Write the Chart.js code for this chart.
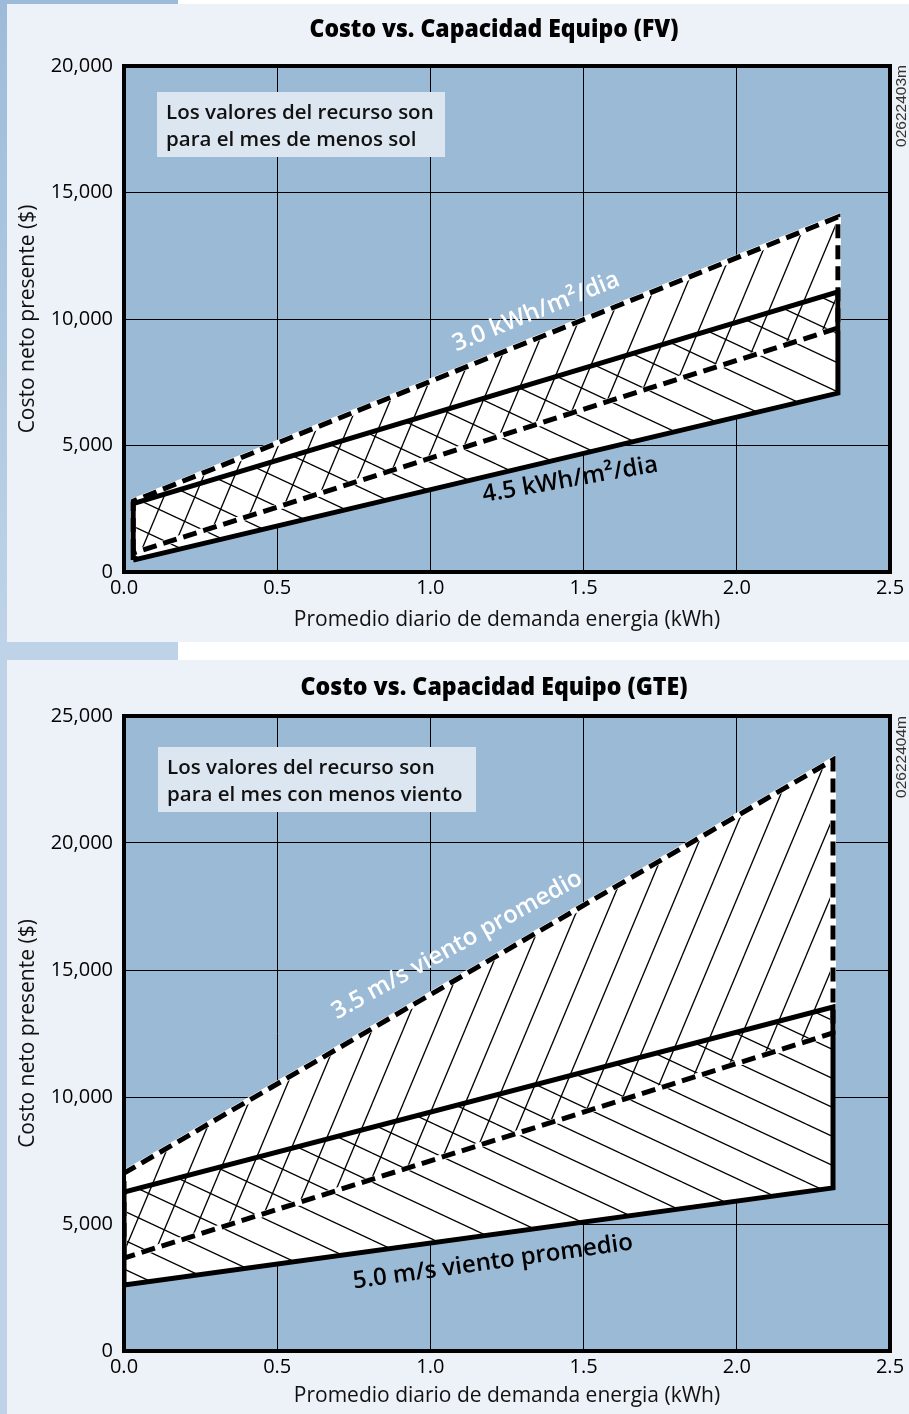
<!DOCTYPE html>
<html>
<head>
<meta charset="utf-8">
<script src="https://cdn.jsdelivr.net/npm/chart.js@4.4.1/dist/chart.umd.min.js"></script>
<style>
body { margin: 0; width: 909px; height: 1414px; position: relative; background: #fff; overflow: hidden; }
.bg { position: absolute; }
canvas { position: absolute; left: 0; }
</style>
</head>
<body>
<div class="bg" style="left:0;top:0;width:178px;height:4px;background:#9dbbd8"></div>
<div class="bg" style="left:0;top:0;width:7px;height:642px;background:linear-gradient(#9dbbd8,#bed3e8)"></div>
<div class="bg" style="left:7px;top:4px;width:902px;height:638px;background:#edf1f8"></div>
<div class="bg" style="left:0;top:642px;width:178px;height:18px;background:#bed3e8"></div>
<div class="bg" style="left:0;top:660px;width:7px;height:754px;background:#bed3e8"></div>
<div class="bg" style="left:7px;top:660px;width:902px;height:754px;background:#edf1f8"></div>
<canvas id="fv" width="909" height="642" style="top:0"></canvas>
<canvas id="gte" width="909" height="754" style="top:660px"></canvas>
<script>
// shared x axis
const xTicks = [0, 0.5, 1.0, 1.5, 2.0, 2.5];

// FV chart (x ends, then y at left / right end)
const fvX = [0.03, 2.33];
const fvSolidLow = [470, 7070];
const fvSolidHigh = [2700, 11070];
const fvDashLow = [750, 9640];
const fvDashHigh = [2800, 14030];
const fvYTicks = [0, 5000, 10000, 15000, 20000];

// GTE chart
const gteX = [0, 2.314];
const gteSolidLow = [2600, 6420];
const gteSolidHigh = [6260, 13540];
const gteDashLow = [3660, 12520];
const gteDashHigh = [7000, 23270];
const gteYTicks = [0, 5000, 10000, 15000, 20000, 25000];

const FONT = '"Open Sans", "Noto Sans", sans-serif';

function hatch(w, h, rising) {
    const c = document.createElement('canvas');
    c.width = w; c.height = h;
    const g = c.getContext('2d');
    g.strokeStyle = '#000';
    g.lineWidth = 1.3;
    for (let i = -1; i <= 1; i++) {
        for (let j = -1; j <= 1; j++) {
            g.beginPath();
            if (rising) { g.moveTo(i * w, j * h + h); g.lineTo(i * w + w, j * h); }
            else { g.moveTo(i * w, j * h); g.lineTo(i * w + w, j * h + h); }
            g.stroke();
        }
    }
    return g.createPattern(c, 'repeat');
}

function poly(xs, lo, hi) {
    return [
        {x: xs[0], y: lo[0]}, {x: xs[0], y: hi[0]},
        {x: xs[1], y: hi[1]}, {x: xs[1], y: lo[1]},
        {x: xs[0], y: lo[0]}
    ];
}

function decor(cfg) {
    return {
        id: 'decor',
        beforeDraw(chart) {
            const {ctx, chartArea: a} = chart;
            ctx.save();
            ctx.fillStyle = '#9bbad6';
            ctx.fillRect(a.left, a.top, a.right - a.left, a.bottom - a.top);
            ctx.restore();
        },
        afterDatasetsDraw(chart) {
            const {ctx, chartArea: a, scales} = chart;
            ctx.save();
            ctx.lineWidth = 4;
            ctx.strokeStyle = '#000';
            ctx.strokeRect(a.left, a.top, a.right - a.left, a.bottom - a.top);

            // title, squeezed to a condensed look
            ctx.fillStyle = '#000';
            ctx.textAlign = 'center';
            ctx.textBaseline = 'middle';
            ctx.font = '800 25px ' + FONT;
            const tw = ctx.measureText(cfg.title).width;
            ctx.save();
            ctx.translate(494, cfg.titleY);
            ctx.scale(cfg.titleW / tw, 1);
            ctx.fillText(cfg.title, 0, 0);
            ctx.restore();

            // note box
            const b = cfg.box;
            ctx.fillStyle = '#dce6f0';
            ctx.fillRect(b.x, b.y, b.w, b.h);
            ctx.fillStyle = '#111';
            ctx.textAlign = 'left';
            ctx.font = '600 20.5px ' + FONT;
            b.lines.forEach((t, i) => ctx.fillText(t, b.x + 9, b.y + 21 + i * 27));

            // curve labels
            cfg.labels.forEach(l => {
                ctx.save();
                ctx.translate(scales.x.getPixelForValue(l.x), scales.y.getPixelForValue(l.y));
                ctx.rotate(-l.angle * Math.PI / 180);
                ctx.textAlign = 'center';
                ctx.fillStyle = l.color;
                ctx.font = '600 24px ' + FONT;
                ctx.fillText(l.text, 0, 0);
                ctx.restore();
            });

            // figure code
            ctx.translate(902, cfg.codeY);
            ctx.rotate(-Math.PI / 2);
            ctx.textAlign = 'center';
            ctx.fillStyle = '#333';
            ctx.font = '15.5px "Liberation Sans", Arial, sans-serif';
            ctx.fillText(cfg.code, 0, 0);
            ctx.restore();
        }
    };
}

function makeChart(id, d) {
    const back = hatch(62, 29, false);
    const fwd = hatch(31, 74, true);
    return new Chart(document.getElementById(id), {
        type: 'line',
        data: {
            datasets: [
                {data: poly(d.x, d.solidLow, d.solidHigh), borderColor: '#000', borderWidth: 5, fill: 'shape', backgroundColor: back},
                {data: poly(d.x, d.dashLow, d.dashHigh), borderColor: '#000', borderWidth: 5, borderDash: [14, 7], fill: 'shape', backgroundColor: fwd},
                {data: poly(d.x, d.solidLow, d.solidHigh), borderWidth: 0, fill: 'shape', backgroundColor: '#fff'},
                {data: poly(d.x, d.dashLow, d.dashHigh), borderColor: '#fff', borderWidth: 6, fill: 'shape', backgroundColor: '#fff'}
            ]
        },
        options: {
            responsive: false,
            animation: false,
            layout: {padding: {top: d.top, right: 19, left: 0, bottom: 0}},
            elements: {
                line: {tension: 0, borderJoinStyle: 'miter', borderCapStyle: 'butt'},
                point: {radius: 0}
            },
            plugins: {
                legend: {display: false},
                tooltip: {enabled: false},
                filler: {drawTime: 'beforeDatasetsDraw'}
            },
            scales: {
                x: {
                    type: 'linear',
                    min: 0,
                    max: 2.5,
                    afterBuildTicks: s => { s.ticks = xTicks.map(v => ({value: v})); },
                    afterFit: s => { s.height = d.xHeight; },
                    grid: {color: '#000', lineWidth: 1, drawTicks: false},
                    border: {display: false},
                    ticks: {
                        padding: 4,
                        color: '#000',
                        font: {family: FONT, size: 20},
                        callback: v => v.toFixed(1)
                    },
                    title: {
                        display: true,
                        text: 'Promedio diario de demanda energia (kWh)',
                        color: '#111',
                        font: {family: FONT, size: 21},
                        padding: {top: 0, bottom: d.xTitlePad}
                    }
                },
                y: {
                    min: 0,
                    max: d.yTicks[d.yTicks.length - 1],
                    afterBuildTicks: s => { s.ticks = d.yTicks.map(v => ({value: v})); },
                    afterFit: s => { s.width = 124; },
                    grid: {color: '#000', lineWidth: 1, drawTicks: false},
                    border: {display: false},
                    ticks: {
                        padding: 11,
                        color: '#000',
                        font: {family: FONT, size: 20},
                        callback: v => v.toLocaleString('en-US')
                    },
                    title: {
                        display: true,
                        text: 'Costo neto presente ($)',
                        color: '#111',
                        font: {family: FONT, size: 21},
                        padding: {top: 15, bottom: 0}
                    }
                }
            }
        },
        plugins: [decor(d.deco)]
    });
}

makeChart('fv', {
    x: fvX, solidLow: fvSolidLow, solidHigh: fvSolidHigh, dashLow: fvDashLow, dashHigh: fvDashHigh,
    yTicks: fvYTicks, top: 66, xHeight: 70, xTitlePad: 9,
    deco: {
        title: 'Costo vs. Capacidad Equipo (FV)', titleY: 30, titleW: 369,
        box: {x: 157, y: 92, w: 288, h: 65, lines: ['Los valores del recurso son', 'para el mes de menos sol']},
        labels: [
            {text: '3.0 kWh/m²/dia', x: 1.345, y: 10280, angle: 22, color: '#fff'},
            {text: '4.5 kWh/m²/dia', x: 1.456, y: 3640, angle: 10, color: '#000'}
        ],
        code: '02622403m', codeY: 106
    }
});

makeChart('gte', {
    x: gteX, solidLow: gteSolidLow, solidHigh: gteSolidHigh, dashLow: gteDashLow, dashHigh: gteDashHigh,
    yTicks: gteYTicks, top: 56, xHeight: 63, xTitlePad: 5,
    deco: {
        title: 'Costo vs. Capacidad Equipo (GTE)', titleY: 28, titleW: 387,
        box: {x: 158, y: 87, w: 318, h: 65, lines: ['Los valores del recurso son', 'para el mes con menos viento']},
        labels: [
            {text: '3.5 m/s viento promedio', x: 1.087, y: 15980, angle: 29, color: '#fff'},
            {text: '5.0 m/s viento promedio', x: 1.204, y: 3500, angle: 8, color: '#000'}
        ],
        code: '02622404m', codeY: 97
    }
});
</script>
</body>
</html>
